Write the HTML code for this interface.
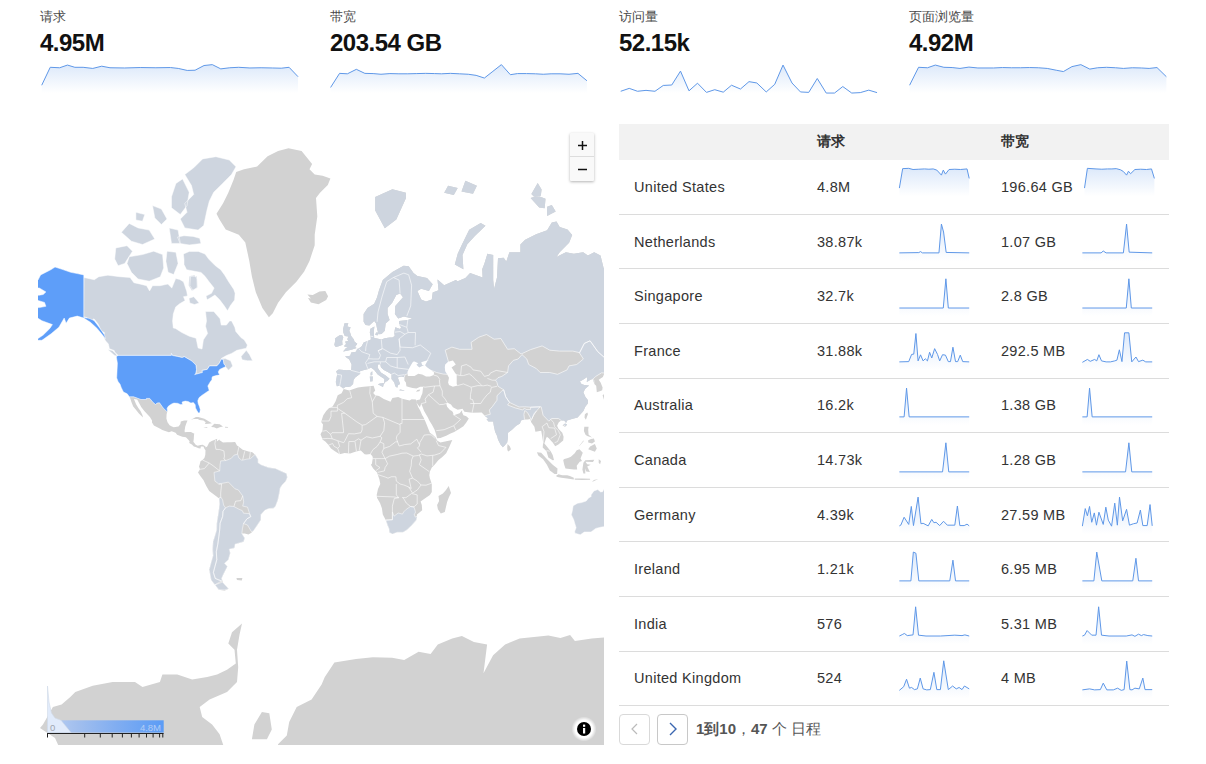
<!DOCTYPE html>
<html><head><meta charset="utf-8">
<style>
html,body{margin:0;padding:0;background:#fff;width:1206px;height:764px;overflow:hidden;position:relative;font-family:"Liberation Sans",sans-serif;color:#222}
.a{position:absolute;white-space:nowrap}
.lbl{font-size:13px;color:#4a4a4a;top:8px}
.val{font-size:24px;font-weight:bold;color:#111;top:29px;letter-spacing:-0.5px}
.th{font-size:14px;font-weight:bold;color:#333;top:133px}
.td{font-size:14.5px;color:#333;letter-spacing:0.3px}
.ln{fill:none;stroke:#5f98e8;stroke-width:1;stroke-linejoin:round}
#map{position:absolute;left:38px;top:124px;width:566px;height:621px;overflow:hidden}
#map svg{position:absolute;left:-38px;top:-124px}
.hdr{position:absolute;left:619px;top:124px;width:550px;height:36px;background:#f2f2f2}
.sep{position:absolute;left:619px;width:550px;height:1px;background:#dcdcdc}
.zb{position:absolute;left:570px;top:133px;width:24px;height:48px;background:#f9f9f9;box-shadow:0 1px 3px rgba(0,0,0,.3);border-radius:1px}
.pg{position:absolute;top:714px;width:29px;height:29px;border:1px solid #d9d9d9;border-radius:4px;background:#fff}
</style></head><body>
<div class="a lbl" style="left:40px">请求</div>
<div class="a val" style="left:40px">4.95M</div>
<div class="a lbl" style="left:330px">带宽</div>
<div class="a val" style="left:330px">203.54 GB</div>
<div class="a lbl" style="left:619px">访问量</div>
<div class="a val" style="left:619px">52.15k</div>
<div class="a lbl" style="left:909px">页面浏览量</div>
<div class="a val" style="left:909px">4.92M</div>

<div id="map"><svg width="1206" height="764" viewBox="0 0 1206 764">
<defs><clipPath id="eul"><path d="M416.4,402.4L419.9,407.2L421.2,403.5L424.1,411.1L427.9,417.4L429.3,420.5L431.8,424.6L434.6,429.7L436.2,434.7L437.1,438.2L440.4,438.0L446.2,435.7L450.0,433.7L454.2,432.1L459.6,428.7L463.4,426.3L466.3,422.6L468.8,418.5L466.3,416.2L463.4,415.3L462.1,412.2L462.1,410.2L459.6,413.2L453.8,415.3L452.9,412.2L451.9,411.1L450.0,410.0L447.1,406.8L446.2,403.5L447.1,402.4L451.0,404.6L452.9,407.2L457.7,409.8L462.5,408.7L464.4,411.7L472.1,412.8L481.7,412.4L482.6,413.6L485.5,416.4L488.4,418.5L486.5,418.9L488.4,421.6L493.2,421.6L493.8,425.7L495.1,431.7L497.0,435.7L498.0,439.6L500.5,444.5L502.8,447.2L504.7,445.5L507.2,442.5L508.0,437.6L508.0,432.7L512.0,429.7L516.2,425.7L520.0,423.6L521.0,420.5L523.9,419.5L527.7,419.5L530.2,418.9L531.2,422.2L534.4,426.7L535.4,431.7L541.2,430.7L542.1,435.7L543.1,442.5L542.7,447.4L546.5,451.3L548.3,457.4L552.7,460.3L554.0,459.9L552.7,455.1L550.7,451.3L546.9,446.4L544.4,443.5L546.0,438.6L546.9,436.7L548.8,438.2L551.7,441.6L552.7,442.5L555.2,446.2L558.4,444.5L563.2,440.6L563.6,436.7L562.3,432.7L558.4,428.7L557.1,425.7L558.8,422.2L561.3,420.5L564.2,420.5L566.1,423.0L567.1,420.5L571.9,419.1L577.6,417.4L580.5,414.3L583.4,411.1L585.3,406.8L587.8,403.5L588.0,400.2L585.3,396.8L583.4,392.2L585.3,388.7L589.1,385.6L584.3,385.1L581.5,383.9L579.9,381.4L583.4,379.4L587.2,376.9L586.8,381.9L591.0,379.4L593.0,378.9L594.3,383.9L596.2,385.8L596.8,392.2L600.6,391.0L602.2,390.3L602.6,387.5L600.6,382.6L598.7,379.7L602.9,376.9L604.5,373.1L607.2,371.0L615.0,368.6L622.7,357.5L626.5,318.0L626.5,260.2L626.5,267.9L603.6,267.9L600.5,255.4L594.2,252.2L587.9,255.4L583.2,252.2L573.8,253.8L565.9,252.2L556.5,256.9L559.7,252.2L569.1,242.8L572.2,234.9L567.5,229.5L559.7,227.1L556.5,221.6L551.8,222.4L547.1,230.2L536.1,234.2L525.1,239.7L520.4,244.4L520.4,252.2L509.4,252.2L506.3,261.6L503.7,257.7L498.0,258.3L497.0,277.5L494.1,288.7L493.2,280.1L493.2,255.1L487.4,253.8L484.5,263.3L482.2,269.2L482.6,277.5L470.1,273.1L465.4,278.0L457.7,281.2L455.8,280.1L444.2,285.2L437.5,279.6L438.5,290.2L432.7,292.5L431.8,299.4L426.0,301.6L421.2,299.4L417.4,291.1L421.2,288.7L428.9,291.1L432.7,284.2L427.0,278.0L417.4,275.9L413.5,273.1L408.7,266.2L403.6,265.7L392.4,272.0L382.8,280.1L379.0,290.2L377.1,297.2L374.2,303.8L367.5,308.0L363.6,314.1L363.6,321.8L365.6,325.1L369.4,325.5L374.2,321.0L376.1,323.6L377.1,329.0L378.6,334.2L381.5,333.9L384.8,330.8L385.7,323.6L389.6,319.9L387.6,314.1L387.6,308.0L392.4,302.5L396.3,294.9L400.1,293.5L403.0,297.2L395.3,305.9L394.9,314.1L398.2,318.4L403.9,316.5L412.2,318.4L407.8,319.9L399.1,321.0L399.1,324.4L401.1,327.3L400.1,329.0L395.3,327.3L394.3,332.5L394.7,335.9L392.4,337.6L389.6,337.6L384.8,338.2L381.3,339.5L377.1,338.5L374.2,337.9L373.8,331.8L374.4,326.5L370.4,328.7L369.8,332.5L370.6,336.2L370.9,339.5L367.5,341.1L363.6,342.4L361.7,346.2L359.8,347.7L357.1,349.0L356.0,351.7L351.2,352.6L350.2,355.8L345.0,356.4L349.3,359.5L351.6,364.5L351.2,369.9L346.4,370.2L338.7,369.4L336.2,371.2L337.2,374.3L335.8,381.9L336.8,386.3L339.7,385.8L342.0,387.5L343.3,388.7L345.4,387.0L350.2,386.8L353.1,383.9L353.5,380.2L355.0,377.7L360.2,373.8L360.0,371.2L363.3,370.2L368.4,369.1L370.9,367.5L374.2,369.9L377.7,374.6L381.3,376.9L384.4,378.9L384.0,383.9L385.7,381.4L387.1,381.2L389.6,378.7L385.7,375.6L380.9,372.5L377.7,367.8L378.0,364.5L380.3,364.3L380.9,367.2L383.8,369.9L388.6,372.5L391.5,374.3L391.5,378.9L394.3,382.6L395.3,386.3L397.2,387.7L398.2,385.1L400.1,383.9L397.8,377.4L401.1,376.6L403.9,376.9L404.3,380.4L405.9,382.6L406.4,386.3L408.7,387.0L412.6,388.0L416.4,388.4L420.3,386.8L423.1,386.8L422.8,389.8L422.4,393.3L421.2,396.1L419.9,399.5L416.4,400.2ZM343.1,351.4L347.3,350.8L352.1,349.6L356.7,348.0L355.0,347.1L357.3,343.7L354.6,341.8L353.7,339.2L351.2,335.9L350.2,332.8L349.3,330.8L350.6,327.3L347.3,326.5L348.3,323.3L344.5,323.3L343.1,329.0L343.3,332.5L344.8,335.9L348.3,336.6L347.3,339.2L348.3,341.1L345.2,341.5L346.0,344.0L343.9,346.2L347.9,347.4L346.0,348.0ZM342.5,345.0L342.2,341.1L343.3,337.6L342.2,335.2L339.7,335.2L337.7,336.6L334.9,338.5L335.2,340.8L334.3,345.0L335.8,347.1L338.7,346.2L342.0,345.0ZM377.8,384.3L383.0,387.0L384.0,383.1L380.0,383.4ZM370.2,381.4L372.5,381.2L372.9,376.4L369.8,376.4ZM370.6,375.4L372.3,375.1L372.3,371.2L370.6,372.8ZM399.1,390.3L404.5,390.8L403.9,390.3L400.1,389.6ZM375.2,334.9L378.0,335.2L378.2,332.5L376.1,332.5ZM375.2,210.4L384.8,228.2L396.3,219.6L405.9,198.2L405.9,192.7L392.4,189.3L375.2,197.1ZM454.8,264.5L463.4,269.2L462.5,255.1L467.3,244.2L474.9,236.1L485.5,225.7L480.7,223.1L469.2,229.8L461.5,245.6L457.7,253.8ZM531.4,194.0L537.7,183.1L541.6,189.4L540.8,195.7L533.8,196.5ZM530.6,198.1L537.7,195.7L545.5,198.8L544.7,208.3L539.2,207.5ZM547.1,206.7L551.8,205.1L555.7,211.4L547.1,216.1ZM444.2,192.7L453.8,194.9L457.7,188.1L448.1,185.7ZM461.5,191.6L473.0,193.8L476.9,185.7L465.4,180.8ZM562.5,425.2L565.1,426.9L567.1,424.4L565.1,423.4Z"/></clipPath></defs>
<path d="M60.0,749.0L55.0,738.0L40.0,728.0L43.0,724.4L52.9,707.0L61.6,704.5L70.3,697.0L75.3,692.0L92.7,685.8L112.6,682.0L135.0,682.0L142.5,687.0L159.9,682.0L162.4,674.6L177.3,674.6L192.2,679.6L207.2,677.1L217.1,674.6L227.0,669.7L235.8,663.4L234.5,649.8L228.3,643.5L232.0,632.3L242.0,623.6L239.5,634.8L237.0,649.8L238.2,667.2L237.0,682.1L227.0,692.0L209.6,699.5L199.7,707.0L202.2,716.9L212.1,724.4L219.6,734.3L224.6,749.0ZM251.9,739.3L254.4,724.4L261.9,711.9L269.3,713.2L271.8,729.4L266.9,739.3ZM278.0,749.0L278.0,744.3L286.8,735.6L289.2,721.9L296.7,707.0L311.6,699.5L321.6,684.6L324.8,677.0L334.4,662.5L356.0,658.9L372.9,657.2L392.1,657.7L404.2,660.1L418.6,651.7L430.6,654.1L437.8,644.5L452.2,638.5L461.9,636.1L473.9,642.1L487.1,644.5L483.5,673.3L493.1,655.3L505.1,644.5L519.6,638.5L548.4,635.6L560.4,638.0L570.1,634.9L574.9,640.9L591.7,638.5L610.0,637.0L610.0,749.0ZM129.3,396.8L130.3,398.4L131.4,402.0L133.2,406.4L135.3,409.0L138.9,413.6L143.0,417.6L142.4,414.9L140.5,411.1L138.5,408.3L136.2,404.6L133.9,399.1L137.2,399.5L141.2,407.0L144.3,411.1L149.9,417.0L152.0,420.5L152.0,422.4L153.9,425.4L160.2,428.7L162.3,430.1L168.9,432.3L171.7,431.3L175.6,432.7L177.1,434.7L182.3,436.8L185.9,437.2L188.1,439.6L189.6,441.2L189.2,443.1L191.9,444.5L193.8,446.4L195.7,447.0L198.6,448.2L200.5,448.4L200.9,446.6L203.4,446.6L204.6,448.9L205.7,447.6L205.3,446.2L202.6,444.7L200.5,444.9L197.7,445.8L195.7,444.7L193.4,441.8L193.8,438.6L194.0,434.7L194.4,433.7L190.9,431.9L187.1,432.1L184.8,432.3L184.6,430.7L185.2,426.7L186.1,424.0L187.5,420.5L184.2,420.5L180.8,421.6L180.4,424.0L178.5,426.5L173.7,427.3L171.4,426.3L169.6,425.2L167.5,422.2L166.4,418.5L166.6,414.3L167.5,411.1L166.9,411.5L163.1,407.9L159.5,402.8L157.0,403.1L155.6,404.6L153.1,402.4L149.7,398.4L146.4,398.4L146.4,399.5L141.0,399.5L133.7,396.8ZM236.2,171.9L244.0,169.3L257.1,166.6L267.6,156.2L278.1,150.9L288.5,148.3L301.6,150.9L312.1,164.0L309.5,169.3L314.7,174.5L322.6,175.8L330.4,178.4L327.8,185.0L320.0,192.8L316.0,198.1L317.3,216.4L314.7,234.7L314.7,245.2L309.5,260.9L304.2,271.4L296.4,281.8L285.9,292.3L278.1,302.8L272.8,313.3L268.9,317.2L262.4,308.0L255.8,292.3L251.9,276.6L249.3,260.9L245.3,242.6L238.8,234.7L225.7,229.5L219.2,219.0L216.5,213.8L223.1,203.3L228.3,192.8L233.6,179.7ZM191.0,419.8L195.9,417.1L198.2,417.0L204.4,418.7L209.0,421.4L211.9,423.2L208.6,423.7L204.9,424.0L205.7,422.2L203.4,420.5L199.6,419.9L197.7,419.1L193.8,419.1ZM211.1,426.9L214.3,423.8L219.7,424.2L223.0,426.5L219.7,427.3L216.8,428.5L214.0,427.3L211.3,427.1ZM203.6,426.9L207.8,427.3L206.7,427.9L204.0,427.3ZM225.1,426.7L228.2,426.9L227.8,427.7L225.1,427.7ZM205.7,447.6L207.2,446.4L209.2,442.5L211.7,441.0L215.5,439.6L217.2,438.8L216.8,441.6L219.7,439.2L219.3,440.0L223.0,442.5L227.4,442.3L231.2,442.3L235.1,442.1L237.0,445.5L238.9,446.8L242.7,449.7L248.5,451.5L252.3,452.2L255.2,454.7L258.1,459.3L258.1,462.8L261.0,464.7L268.7,467.6L275.4,468.4L282.1,471.6L286.5,473.4L287.3,477.2L285.9,481.1L282.1,485.0L280.2,488.0L279.2,493.9L277.9,499.9L275.6,506.1L273.5,508.2L268.7,508.6L264.8,510.3L261.0,514.5L260.8,519.9L257.1,525.4L253.3,531.1L251.4,532.7L248.5,534.6L244.7,533.4L241.8,533.4L244.7,538.1L243.7,541.7L235.1,544.2L234.5,547.9L229.3,549.2L230.3,553.1L228.4,559.7L224.5,563.3L227.4,566.6L223.6,573.9L221.6,578.5L222.6,581.0L223.0,583.2L228.7,588.7L224.5,590.7L218.8,589.7L214.9,584.8L211.1,580.0L209.2,569.5L211.1,562.4L213.0,555.7L212.6,549.2L213.0,541.7L214.9,535.8L216.6,529.9L216.8,523.2L217.8,516.6L218.8,510.3L219.5,504.0L219.1,498.5L215.9,495.9L209.2,490.9L206.3,486.0L203.4,480.1L200.5,476.3L198.0,472.4L200.0,469.3L199.0,466.6L199.6,464.7L200.5,461.3L202.4,459.9L204.4,458.0L205.3,455.1L205.5,450.3L204.6,448.9ZM236.4,577.9L242.4,577.9L241.8,580.6L237.0,580.0ZM416.0,399.5L411.6,399.3L409.7,400.4L402.0,398.8L398.2,397.0L392.4,397.9L390.5,401.7L383.8,399.1L379.0,395.9L375.2,395.2L373.2,392.9L375.2,390.6L373.6,385.8L369.4,386.3L363.6,386.8L357.9,387.5L352.1,389.4L349.3,390.6L343.7,388.9L341.6,393.3L337.7,395.2L335.6,401.3L332.6,406.4L329.1,407.9L326.2,411.1L323.3,415.3L321.6,420.5L321.2,422.0L323.0,424.6L322.4,430.7L320.5,434.3L321.8,437.6L322.4,439.6L325.3,441.6L328.1,444.5L331.0,448.4L334.9,451.3L339.7,454.3L344.5,453.0L350.2,453.6L356.0,451.5L360.8,450.5L364.6,454.2L366.5,454.5L370.4,454.0L372.3,456.1L372.9,458.0L372.3,460.9L371.9,463.8L370.9,464.7L373.2,468.6L377.1,472.4L377.7,474.5L379.4,479.2L380.3,484.0L378.0,488.9L376.7,494.9L377.1,497.9L380.0,503.0L381.9,508.2L382.8,514.5L385.7,520.1L387.6,525.4L389.0,528.8L389.4,532.5L392.4,534.1L397.2,532.3L403.0,532.3L406.8,529.9L411.6,525.4L416.4,519.9L417.0,514.5L422.2,510.3L421.8,505.1L420.6,501.6L424.1,498.9L429.9,494.9L431.8,491.9L431.8,484.0L429.9,478.2L429.3,475.3L429.9,471.4L431.8,467.6L434.6,464.7L438.5,459.9L442.3,457.0L446.2,453.2L449.0,447.4L452.3,440.0L446.2,441.2L440.4,442.5L437.1,440.6L435.6,437.6L432.7,434.7L429.9,432.7L427.9,427.7L425.4,421.6L423.1,416.4L422.2,415.3L420.3,410.7L418.3,407.2L416.4,402.6ZM448.7,486.0L451.0,492.9L449.0,496.9L447.1,502.0L444.8,512.0L440.8,513.4L437.9,509.2L437.1,505.1L439.1,501.0L438.5,495.9L442.9,493.5L446.0,489.9ZM416.4,402.4L419.9,407.2L421.2,403.5L424.1,411.1L427.9,417.4L429.3,420.5L431.8,424.6L434.6,429.7L436.2,434.7L437.1,438.2L440.4,438.0L446.2,435.7L450.0,433.7L454.2,432.1L459.6,428.7L463.4,426.3L466.3,422.6L468.8,418.5L466.3,416.2L463.4,415.3L462.1,412.2L462.1,410.2L459.6,413.2L453.8,415.3L452.9,412.2L451.9,411.1L450.0,410.0L447.1,406.8L446.2,403.5L447.1,402.4L451.0,404.6L452.9,407.2L457.7,409.8L462.5,408.7L464.4,411.7L472.1,412.8L481.7,412.4L482.6,413.6L485.5,416.4L488.4,418.5L486.5,418.9L488.4,421.6L493.2,421.6L493.8,425.7L495.1,431.7L497.0,435.7L498.0,439.6L500.5,444.5L502.8,447.2L504.7,445.5L507.2,442.5L508.0,437.6L508.0,432.7L512.0,429.7L516.2,425.7L520.0,423.6L521.0,420.5L523.9,419.5L527.7,419.5L530.2,418.9L531.2,422.2L534.4,426.7L535.4,431.7L541.2,430.7L542.1,435.7L543.1,442.5L542.7,447.4L546.5,451.3L548.3,457.4L552.7,460.3L554.0,459.9L552.7,455.1L550.7,451.3L546.9,446.4L544.4,443.5L546.0,438.6L546.9,436.7L548.8,438.2L551.7,441.6L552.7,442.5L555.2,446.2L558.4,444.5L563.2,440.6L563.6,436.7L562.3,432.7L558.4,428.7L557.1,425.7L558.8,422.2L561.3,420.5L564.2,420.5L566.1,423.0L567.1,420.5L571.9,419.1L577.6,417.4L580.5,414.3L583.4,411.1L585.3,406.8L587.8,403.5L588.0,400.2L585.3,396.8L583.4,392.2L585.3,388.7L589.1,385.6L584.3,385.1L581.5,383.9L579.9,381.4L583.4,379.4L587.2,376.9L586.8,381.9L591.0,379.4L593.0,378.9L594.3,383.9L596.2,385.8L596.8,392.2L600.6,391.0L602.2,390.3L602.6,387.5L600.6,382.6L598.7,379.7L602.9,376.9L604.5,373.1L607.2,371.0L615.0,368.6L622.7,357.5L626.5,318.0L626.5,260.2L626.5,267.9L603.6,267.9L600.5,255.4L594.2,252.2L587.9,255.4L583.2,252.2L573.8,253.8L565.9,252.2L556.5,256.9L559.7,252.2L569.1,242.8L572.2,234.9L567.5,229.5L559.7,227.1L556.5,221.6L551.8,222.4L547.1,230.2L536.1,234.2L525.1,239.7L520.4,244.4L520.4,252.2L509.4,252.2L506.3,261.6L503.7,257.7L498.0,258.3L497.0,277.5L494.1,288.7L493.2,280.1L493.2,255.1L487.4,253.8L484.5,263.3L482.2,269.2L482.6,277.5L470.1,273.1L465.4,278.0L457.7,281.2L455.8,280.1L444.2,285.2L437.5,279.6L438.5,290.2L432.7,292.5L431.8,299.4L426.0,301.6L421.2,299.4L417.4,291.1L421.2,288.7L428.9,291.1L432.7,284.2L427.0,278.0L417.4,275.9L413.5,273.1L408.7,266.2L403.6,265.7L392.4,272.0L382.8,280.1L379.0,290.2L377.1,297.2L374.2,303.8L367.5,308.0L363.6,314.1L363.6,321.8L365.6,325.1L369.4,325.5L374.2,321.0L376.1,323.6L377.1,329.0L378.6,334.2L381.5,333.9L384.8,330.8L385.7,323.6L389.6,319.9L387.6,314.1L387.6,308.0L392.4,302.5L396.3,294.9L400.1,293.5L403.0,297.2L395.3,305.9L394.9,314.1L398.2,318.4L403.9,316.5L412.2,318.4L407.8,319.9L399.1,321.0L399.1,324.4L401.1,327.3L400.1,329.0L395.3,327.3L394.3,332.5L394.7,335.9L392.4,337.6L389.6,337.6L384.8,338.2L381.3,339.5L377.1,338.5L374.2,337.9L373.8,331.8L374.4,326.5L370.4,328.7L369.8,332.5L370.6,336.2L370.9,339.5L367.5,341.1L363.6,342.4L361.7,346.2L359.8,347.7L357.1,349.0L356.0,351.7L351.2,352.6L350.2,355.8L345.0,356.4L349.3,359.5L351.6,364.5L351.2,369.9L346.4,370.2L338.7,369.4L336.2,371.2L337.2,374.3L335.8,381.9L336.8,386.3L339.7,385.8L342.0,387.5L343.3,388.7L345.4,387.0L350.2,386.8L353.1,383.9L353.5,380.2L355.0,377.7L360.2,373.8L360.0,371.2L363.3,370.2L368.4,369.1L370.9,367.5L374.2,369.9L377.7,374.6L381.3,376.9L384.4,378.9L384.0,383.9L385.7,381.4L387.1,381.2L389.6,378.7L385.7,375.6L380.9,372.5L377.7,367.8L378.0,364.5L380.3,364.3L380.9,367.2L383.8,369.9L388.6,372.5L391.5,374.3L391.5,378.9L394.3,382.6L395.3,386.3L397.2,387.7L398.2,385.1L400.1,383.9L397.8,377.4L401.1,376.6L403.9,376.9L404.3,380.4L405.9,382.6L406.4,386.3L408.7,387.0L412.6,388.0L416.4,388.4L420.3,386.8L423.1,386.8L422.8,389.8L422.4,393.3L421.2,396.1L419.9,399.5L416.4,400.2ZM343.1,351.4L347.3,350.8L352.1,349.6L356.7,348.0L355.0,347.1L357.3,343.7L354.6,341.8L353.7,339.2L351.2,335.9L350.2,332.8L349.3,330.8L350.6,327.3L347.3,326.5L348.3,323.3L344.5,323.3L343.1,329.0L343.3,332.5L344.8,335.9L348.3,336.6L347.3,339.2L348.3,341.1L345.2,341.5L346.0,344.0L343.9,346.2L347.9,347.4L346.0,348.0ZM342.5,345.0L342.2,341.1L343.3,337.6L342.2,335.2L339.7,335.2L337.7,336.6L334.9,338.5L335.2,340.8L334.3,345.0L335.8,347.1L338.7,346.2L342.0,345.0ZM377.8,384.3L383.0,387.0L384.0,383.1L380.0,383.4ZM370.2,381.4L372.5,381.2L372.9,376.4L369.8,376.4ZM370.6,375.4L372.3,375.1L372.3,371.2L370.6,372.8ZM399.1,390.3L404.5,390.8L403.9,390.3L400.1,389.6ZM416.0,391.7L419.3,391.3L420.3,389.6L417.4,390.1ZM375.2,334.9L378.0,335.2L378.2,332.5L376.1,332.5ZM375.2,210.4L384.8,228.2L396.3,219.6L405.9,198.2L405.9,192.7L392.4,189.3L375.2,197.1ZM310.9,302.5L318.5,304.2L326.2,299.9L328.1,296.3L325.3,291.1L319.5,291.6L312.8,294.9L307.4,294.4L310.9,298.5L308.0,298.1ZM507.4,450.3L508.5,451.5L511.0,449.3L509.9,446.4L507.6,443.9L507.2,447.4ZM584.5,417.4L585.9,419.7L588.0,414.1L587.2,412.6L584.9,414.3ZM562.5,425.2L565.1,426.9L567.1,424.4L565.1,423.4ZM602.6,395.2L603.9,399.5L606.4,399.1L607.4,393.8L605.1,393.3ZM605.2,392.7L609.3,392.7L613.1,394.5L622.7,391.0L624.6,376.4L622.3,378.9L617.0,386.3L609.3,389.6ZM584.3,426.7L588.6,426.7L588.2,429.7L588.6,434.7L592.0,437.6L587.2,436.1L585.5,434.7L583.9,431.1ZM588.2,449.3L594.9,451.8L596.8,448.4L594.9,443.9L590.1,446.4ZM579.0,446.6L583.8,441.0L583.4,440.6L579.5,445.5ZM588.2,442.5L592.0,443.5L594.9,441.6L593.9,438.6L591.0,439.0L588.2,440.2ZM563.2,459.9L564.2,464.7L565.5,468.6L573.8,469.5L577.2,469.5L576.7,465.7L579.7,461.8L582.0,460.9L580.5,458.4L582.8,452.8L579.5,449.3L576.7,450.3L574.7,453.2L570.9,456.7L568.0,458.0L564.4,459.0ZM536.9,452.2L541.2,452.8L546.9,459.0L552.7,464.7L557.5,468.6L557.1,473.9L554.6,474.1L549.8,470.5L546.9,464.7L543.1,459.3L538.3,455.5ZM555.9,475.9L558.4,474.3L562.3,475.3L567.1,475.3L569.9,476.1L573.8,477.8L573.8,479.6L567.1,478.6L561.3,477.8L557.5,477.0ZM583.4,473.4L585.3,473.4L585.3,468.2L586.2,471.6L589.9,472.0L587.2,466.4L590.7,464.7L587.2,464.3L585.5,461.8L593.0,462.0L594.3,459.7L585.3,460.3L583.4,462.8L582.4,469.5ZM574.7,478.6L582.4,478.6L590.1,478.8L590.1,479.8L582.4,480.1L574.7,479.8ZM592.0,482.1L598.3,479.0L593.9,480.1ZM598.7,459.3L601.0,460.9L600.1,464.3L598.7,462.8ZM605.4,464.7L611.2,464.3L618.9,465.7L632.3,470.5L632.3,478.2L618.9,478.8L617.9,472.4L609.3,470.5L607.4,467.6ZM454.8,264.5L463.4,269.2L462.5,255.1L467.3,244.2L474.9,236.1L485.5,225.7L480.7,223.1L469.2,229.8L461.5,245.6L457.7,253.8ZM531.4,194.0L537.7,183.1L541.6,189.4L540.8,195.7L533.8,196.5ZM530.6,198.1L537.7,195.7L545.5,198.8L544.7,208.3L539.2,207.5ZM547.1,206.7L551.8,205.1L555.7,211.4L547.1,216.1ZM444.2,192.7L453.8,194.9L457.7,188.1L448.1,185.7ZM461.5,191.6L473.0,193.8L476.9,185.7L465.4,180.8Z" fill="#d2d2d2"/>
<g clip-path="url(#eul)"><path d="M296.5,388.2L343.5,388.4L350.2,387.2L359.8,382.6L372.3,383.1L377.1,384.8L377.1,388.0L383.8,388.2L392.4,392.2L407.8,392.2L408.7,388.2L403.9,385.1L403.9,380.2L404.3,377.4L405.1,374.6L407.8,373.8L417.4,369.9L427.0,369.9L430.8,370.2L436.6,372.5L443.3,374.1L447.1,374.3L450.0,371.2L448.7,362.6L445.2,350.2L451.9,347.1L459.6,349.3L472.1,349.3L471.1,342.4L478.8,337.2L486.5,334.5L494.1,339.2L500.9,338.5L507.6,349.3L514.3,348.7L521.0,354.0L522.9,353.2L530.6,349.6L542.1,345.9L549.8,350.2L559.4,351.1L572.8,351.1L578.0,352.3L579.5,352.9L584.3,343.4L590.1,340.8L597.8,351.7L605.4,358.4L612.2,356.7L609.3,365.9L606.4,371.2L604.9,373.1L641.9,378.9L641.9,118.5L296.5,118.5ZM579.5,352.9L583.4,359.0L576.7,364.5L569.0,365.9L567.1,369.9L557.5,374.3L549.8,372.5L540.2,372.5L536.4,368.6L528.7,364.5L526.8,359.0L522.0,354.6L518.1,359.0L513.3,360.4L508.5,365.9L507.6,372.5L501.8,376.4L498.0,377.7L495.5,380.2L497.0,382.6L498.0,386.3L503.7,389.8L505.7,396.8L509.5,402.4L519.1,407.0L524.8,406.8L530.6,407.2L541.2,406.8L543.1,415.3L548.8,421.2L551.7,418.5L558.4,418.5L561.3,420.5L562.3,423.6L569.0,429.7L580.5,421.6L584.3,416.4L586.2,406.8L593.9,397.9L593.9,380.2L592.8,379.2L595.8,376.4L601.6,372.8L604.9,373.1L606.4,371.2L609.3,365.9L612.2,356.7L605.4,358.4L597.8,351.7L590.1,340.8L584.3,343.4ZM480.7,417.4L484.9,416.0L487.4,414.9L490.3,414.3L489.3,410.0L492.2,406.8L497.0,400.2L497.0,395.7L501.8,391.0L503.7,389.8L505.7,396.8L509.5,402.4L507.6,405.0L515.2,407.9L522.9,410.0L524.5,407.9L525.8,409.4L530.6,409.4L530.6,407.2L540.2,406.8L536.4,411.1L533.5,415.3L531.6,419.5L531.2,420.5L530.2,417.4L527.7,412.8L524.8,410.5L523.9,414.3L524.5,419.5L522.9,429.7L508.5,442.9L506.2,445.1L503.7,448.4L488.4,443.5Z" fill="#ced5df" stroke="#fff" stroke-width="0.6"/></g>
<path d="M83.9,277.5L94.3,279.7L98.8,276.7L107.8,275.2L119.7,276.7L130.1,277.5L133.9,282.7L140.6,284.2L146.6,285.7L149.6,290.9L152.5,285.7L160.0,285.7L167.8,284.1L171.8,288.1L175.7,278.6L179.6,279.4L183.5,281.8L186.7,291.2L187.5,295.9L183.5,296.7L185.1,300.6L179.6,303.8L175.7,306.9L173.3,314.0L172.6,321.0L173.3,328.0L175.5,328.4L181.4,332.3L189.3,336.2L196.1,338.2L198.1,348.0L202.0,349.0L203.4,339.8L207.6,333.5L205.5,326.2L206.5,320.9L205.5,311.5L213.8,311.5L220.1,318.8L221.2,325.1L226.4,325.1L229.6,320.9L231.6,320.9L234.8,327.2L235.8,331.4L241.1,337.7L244.2,339.8L247.4,345.0L246.3,348.2L236.9,350.3L231.6,353.4L226.4,355.5L221.2,358.6L225.4,358.6L230.6,360.7L232.7,366.0L228.5,370.2L225.5,366.7L225.1,365.3L223.9,364.0L223.2,359.5L221.3,359.2L219.1,363.4L216.8,365.9L209.5,365.9L207.2,369.4L202.1,370.4L202.4,372.5L194.6,374.6L195.7,373.8L196.5,369.6L195.9,365.1L192.7,361.8L191.1,360.6L184.4,356.7L182.1,357.5L177.5,356.4L172.5,355.5L171.4,353.5L171.4,355.4L118.0,355.4L116.9,354.3L114.6,352.0L114.2,350.5L109.4,348.7L108.4,344.0L105.5,340.8L103.4,336.6L104.6,332.8L101.1,330.4L98.1,324.0L94.0,318.8L90.2,321.8L86.9,317.6L83.5,316.8ZM117.4,356.4L114.2,355.2L107.8,349.6L112.3,350.5L116.1,353.8ZM241.1,356.5L246.3,350.3L249.5,354.5L252.6,360.7L247.4,360.7L242.1,359.7ZM184.0,259.3L183.4,254.0L189.3,251.4L198.4,251.4L205.0,254.0L208.9,259.3L215.4,265.8L220.7,269.7L224.6,275.0L228.5,281.5L233.8,289.4L235.1,293.3L234.6,300.0L230.6,305.3L227.5,310.8L224.4,306.1L219.7,299.8L214.9,295.1L211.0,297.5L207.1,299.8L206.0,296.0L211.5,293.3L214.1,288.1L208.9,281.5L205.0,276.3L201.0,272.4L193.2,271.0L186.6,269.7L184.0,264.5ZM177.5,237.0L184.0,235.7L193.2,236.4L199.7,238.3L201.0,243.6L189.3,244.9L180.1,243.6ZM189.3,276.3L194.5,275.0L197.1,278.9L197.1,288.1L191.9,290.7L188.6,285.4ZM190.6,276.3L196.9,276.3L197.7,287.3L193.0,290.4L189.8,285.7ZM189.0,298.3L193.8,296.7L199.2,303.0L194.5,304.5L189.8,303.0ZM202.6,158.9L215.9,156.7L229.3,160.0L236.0,166.7L231.5,174.5L222.6,183.4L213.7,192.3L209.3,201.2L207.0,210.1L203.7,225.6L198.1,230.1L184.8,227.9L180.3,219.0L187.0,212.3L184.8,203.4L193.7,194.5L191.5,185.6L184.8,174.5L193.7,167.8ZM171.5,196.7L175.9,183.4L182.6,178.9L189.2,192.3L187.0,205.6L180.3,214.5L171.5,207.8ZM152.5,205.6L161.4,209.0L167.0,219.0L161.4,224.5L154.8,217.9ZM169.2,227.9L178.1,230.1L180.3,243.4L171.5,243.4ZM135.9,212.3L144.8,214.5L142.5,221.2L135.9,220.0ZM121.4,232.3L129.2,223.4L138.1,227.9L149.2,230.1L154.8,239.0L142.5,244.5L131.4,241.2ZM115.8,247.9L127.0,245.7L132.5,251.2L124.7,263.5L118.1,265.7L114.7,259.0ZM129.2,256.8L142.5,254.6L153.7,251.2L162.6,254.6L163.7,267.9L160.3,276.8L149.2,281.2L138.1,279.0L131.4,272.3L127.0,263.5ZM167.0,251.2L175.9,252.3L178.1,263.5L173.7,274.6L168.1,272.3L165.9,261.2ZM255.0,454.5L250.4,458.6L246.6,459.2L241.8,460.3L238.9,458.0L237.6,454.2L234.1,455.1L231.2,458.4L225.9,460.5L220.7,460.9L220.1,464.7L219.7,470.9L214.0,472.4L214.9,481.1L218.8,484.0L228.4,482.1L235.1,488.9L238.3,489.9L242.7,495.9L243.7,502.0L242.7,506.1L247.5,507.1L249.5,513.4L250.8,516.6L247.0,518.8L243.5,523.6L247.5,525.0L251.4,531.6L253.3,531.1L257.1,525.4L260.8,519.9L261.0,514.5L264.8,510.3L268.7,508.6L273.5,508.2L275.6,506.1L277.9,499.9L279.2,493.9L280.2,488.0L282.1,485.0L285.9,481.1L287.3,477.2L286.5,473.4L282.1,471.6L275.4,468.4L268.7,467.6L261.0,464.7L258.1,462.8L258.1,459.3L255.2,454.7ZM242.0,532.3L242.4,528.8L243.5,523.6L247.0,518.8L250.8,516.6L249.3,513.6L243.5,513.2L242.4,510.7L238.9,509.2L233.9,506.5L229.3,506.1L225.5,507.8L223.0,511.3L222.6,516.6L220.1,523.2L219.7,529.9L218.8,536.9L217.8,544.2L216.3,551.8L216.8,559.7L214.9,566.6L213.4,572.4L215.3,578.5L221.6,581.0L222.6,581.0L221.6,578.5L223.6,573.9L227.4,566.6L224.5,563.3L228.4,559.7L230.3,553.1L229.3,549.2L234.5,547.9L235.1,544.2L243.7,541.7L244.7,538.1L241.8,533.4ZM219.1,498.5L220.7,496.9L222.6,499.9L223.6,505.1L225.5,507.8L223.0,511.3L222.6,516.6L220.1,523.2L219.7,529.9L218.8,536.9L217.8,544.2L216.3,551.8L216.8,559.7L214.9,566.6L213.4,572.4L215.3,578.5L221.6,581.0L214.9,584.8L211.1,580.0L209.2,569.5L211.1,562.4L213.0,555.7L212.6,549.2L213.0,541.7L214.9,535.8L216.6,529.9L216.8,523.2L217.8,516.6L218.8,510.3L219.5,504.0ZM222.4,581.9L228.7,588.7L224.5,590.0L218.8,589.7L214.9,584.8L219.7,583.2L222.4,581.9ZM385.7,520.1L387.6,525.4L389.0,528.8L389.4,532.5L392.4,534.1L397.2,532.3L403.0,532.3L406.8,529.9L411.6,525.4L416.4,519.9L417.2,516.2L415.3,517.1L414.1,514.1L415.3,513.2L415.3,511.1L413.9,506.9L410.5,506.5L406.2,509.4L403.9,511.7L402.4,514.1L398.2,513.0L394.0,516.2L392.4,512.0L392.4,519.7L388.2,519.9ZM605.1,486.8L602.6,491.7L600.6,491.9L597.8,489.5L593.9,490.9L591.0,494.9L591.2,496.5L588.6,497.9L586.2,501.0L581.5,502.6L577.6,503.2L573.2,505.7L572.0,512.2L571.3,514.7L573.8,519.9L574.7,523.2L576.1,527.7L574.7,531.3L574.9,533.2L580.3,534.8L584.3,532.0L591.0,532.0L595.8,528.4L601.6,527.0L605.4,526.5L622.7,526.5L622.7,486.0Z" fill="#ced5df" stroke="#fff" stroke-width="0.5" stroke-linejoin="round"/>
<path d="M116.3,356.7L118.0,355.4L171.4,355.4L171.4,353.5L172.5,355.5L177.5,356.4L182.1,357.5L184.4,356.7L191.1,360.6L192.7,361.8L195.9,365.1L196.5,369.6L195.7,373.8L194.6,374.6L202.4,372.5L202.1,370.4L207.2,369.4L209.5,365.9L216.8,365.9L219.1,363.4L221.3,359.2L223.2,359.5L223.9,364.0L225.1,365.3L225.5,366.7L222.6,368.0L219.7,369.4L218.4,371.5L218.6,373.3L219.7,374.3L218.8,375.1L216.1,375.6L212.6,376.6L212.0,377.7L211.9,379.7L210.3,381.7L209.9,382.4L208.4,385.1L207.8,386.0L208.4,387.7L209.2,390.6L207.2,391.7L204.6,393.6L202.1,395.2L199.0,397.7L197.8,400.8L198.2,403.5L199.4,406.4L200.3,409.4L199.8,412.8L198.4,413.0L197.1,410.9L195.5,407.9L195.2,404.8L193.4,402.6L190.9,403.1L188.1,401.5L185.2,401.1L182.1,402.0L182.5,404.6L180.4,404.4L177.5,403.3L173.9,403.1L171.7,403.9L168.5,406.1L167.1,408.3L167.5,411.1L166.9,411.5L163.1,407.9L159.5,402.8L157.0,403.1L155.6,404.6L153.1,402.4L149.7,398.4L146.4,398.4L146.4,399.5L141.0,399.5L133.7,396.8L129.3,396.8L127.2,393.8L123.4,392.0L121.1,387.2L120.1,384.3L118.0,381.4L116.7,377.9L116.9,373.8L117.1,369.4L117.4,363.2L116.3,356.7ZM83.8,274.9L77.3,273.6L70.7,272.3L62.9,269.6L55.0,267.0L51.1,269.6L45.9,272.3L40.6,274.9L38.0,280.1L35.4,280.1L35.4,288.0L39.3,288.0L45.9,291.9L43.2,294.5L39.3,295.2L35.4,295.2L35.4,299.7L44.5,302.4L45.9,306.3L39.3,307.6L35.4,307.6L35.4,316.8L41.9,320.7L52.4,324.6L49.8,328.5L43.2,335.1L35.4,340.3L41.9,340.3L51.1,333.8L58.9,327.2L64.2,318.1L66.1,323.3L69.4,318.1L77.3,316.1L83.8,318.1L90.4,322.3L96.9,328.2L103.4,336.1L105.4,338.7L104.5,335.0L99.0,327.0L94.0,320.5L89.0,318.3L83.8,317.5Z" fill="#5e9ef9" stroke="#fff" stroke-width="0.5"/>
<path d="M349.8,390.8L350.8,394.5L351.7,397.7L347.1,398.8L343.5,402.4L337.4,405.3L337.4,408.3L344.8,413.2L356.4,421.6L362.1,425.2M337.4,407.4L328.7,407.4M337.4,408.3L337.4,411.1L331.0,411.1L331.0,416.4L329.1,421.0L321.4,421.0M344.8,413.2L341.6,413.4L343.5,430.7L343.5,432.7L332.0,432.7L330.6,434.3L326.2,430.5L322.4,431.3M330.6,434.3L332.2,438.8L327.8,438.4L321.8,438.8M332.2,438.8L337.9,440.8L343.7,442.7L345.0,440.6L348.5,433.7L354.4,433.9L361.0,432.7L362.1,429.9L362.1,425.2M328.5,445.1L332.6,443.5L334.1,446.4L337.7,448.2L339.7,454.3M337.9,440.8L339.7,446.4L337.7,448.2M348.5,453.2L348.7,444.5L348.9,441.6L354.4,441.4L358.5,438.8L361.0,440.2M356.4,451.1L355.0,441.6M359.2,450.5L361.0,440.2M361.0,440.2L366.5,436.7L372.3,438.0L380.1,436.3M370.4,454.0L372.9,449.7L377.1,446.4L380.1,442.0L381.9,437.8L380.1,436.3M380.1,436.3L383.8,430.7L384.6,422.8L382.8,417.4L377.1,416.4L365.6,424.6L362.1,425.2M377.1,416.4L373.2,413.2L372.3,401.7L376.1,395.2M370.2,386.5L369.8,393.3L372.3,401.7M402.0,398.8L402.0,419.5L424.9,419.5M382.8,417.4L400.1,424.6L400.1,423.6L402.0,423.6L402.0,419.5M400.1,424.6L400.1,432.3L397.0,435.7L396.3,438.2L399.1,446.0L404.9,444.5L410.7,443.9L416.8,439.2L419.3,444.5M380.1,442.0L383.8,443.7L383.8,448.4L389.6,446.4L395.7,441.8L398.0,441.8M383.8,448.4L381.9,452.2L385.1,458.6L389.6,456.1L397.2,454.5L402.0,453.2L406.8,453.0L413.2,456.1L418.3,455.5L421.2,454.0M424.1,435.1L422.2,438.6L419.9,442.3L419.3,446.4L417.4,447.8L421.2,452.2M424.1,435.1L427.9,434.7L431.2,434.9L435.4,438.6M436.2,440.6L438.5,445.5L446.0,447.4L440.4,453.2L434.6,455.1L432.7,455.3L427.0,455.9L421.2,454.0M432.7,455.3L432.7,465.9M419.3,454.7L421.2,459.9L419.3,464.7L429.3,471.6M372.9,458.6L375.7,458.6L381.9,458.6L385.1,458.6L387.6,463.8L385.1,467.6L384.4,470.9L377.7,472.4M375.7,458.6L375.7,464.7L380.0,467.6L376.1,470.5M377.7,474.5L385.7,477.2L388.0,478.2L391.5,476.7L395.9,476.8L396.3,481.1L400.1,484.0L403.9,485.0L408.7,487.0L411.2,488.6L409.1,479.2L412.6,478.2L409.7,471.4L411.2,465.7L411.6,459.9L413.2,456.1M396.3,484.0L396.3,494.9L398.8,497.7L393.4,496.9L376.7,496.3M431.8,483.1L426.0,485.2L421.0,485.0L417.4,489.9L412.6,493.1L408.7,487.0M412.6,478.2L417.4,481.1L421.0,485.0M402.4,497.5L405.9,497.7L411.6,493.5L417.2,494.9L417.2,504.0L413.9,506.9L410.5,506.5L406.2,503.0L403.9,498.9L402.4,497.5M392.4,506.1L392.4,512.0M392.4,506.1L394.3,498.5L398.8,497.7M392.4,512.0L392.4,519.7L385.7,520.1M215.5,440.0L214.9,443.5L215.9,449.3L219.7,449.5L223.9,450.9L224.5,456.1L223.9,459.0L225.9,460.5M202.4,459.9L205.3,461.3L209.2,463.0L213.0,465.7L219.7,470.9M209.2,463.0L204.4,468.6L200.0,469.3M238.9,446.8L237.6,452.8L237.6,454.2M244.7,451.3L242.7,459.9M250.4,451.8L249.5,458.4M218.8,484.0L221.6,484.0L220.7,492.9L220.7,496.9L219.1,498.5M233.9,506.5L235.6,501.2L240.8,500.6L242.7,495.9M423.1,386.8L425.1,387.2L434.6,386.0L440.0,385.8L439.4,380.2L440.0,379.7L437.5,376.1L433.7,375.1M434.6,386.0L433.1,392.2L428.5,394.7L425.1,399.1L426.0,402.4L421.2,403.7M428.5,394.7L439.4,404.6L443.3,404.4L446.2,403.5M440.0,385.8L442.3,391.0L442.3,395.7L445.2,399.1L447.1,402.4M436.2,430.7L444.2,429.7L453.8,425.7L460.6,419.5L452.9,414.3M453.8,425.7L455.8,430.3M471.1,387.2L471.5,389.6L470.5,394.5L470.3,399.1L472.5,399.5L474.0,403.7L472.1,412.8M470.3,403.5L480.7,403.5L483.6,399.1L487.4,394.5L490.3,392.2L491.3,387.5L497.0,386.3M457.5,385.6L463.4,383.9L469.2,386.3L471.1,387.2L477.8,385.6L483.6,385.8L487.4,385.1L491.3,386.3M454.8,374.3L460.6,375.6L461.5,365.9L466.3,364.5L471.1,367.2L473.0,369.9L480.7,371.2L484.5,376.4L489.3,375.1L490.3,373.1L496.1,370.4L507.6,372.5M460.6,375.6L463.4,375.6L469.2,373.8L472.1,375.9L477.8,381.7L481.7,385.3M487.4,378.4L492.2,380.2L495.5,380.2M543.1,443.5L544.0,431.7L542.1,426.7L546.9,423.0L548.8,427.7L554.6,428.1L556.5,434.7L550.7,438.6M550.2,418.7L553.6,422.6L554.6,426.7L558.4,430.7L560.3,434.7L557.5,441.6L554.6,442.7M546.5,450.5L549.8,451.3M531.6,419.5L534.4,413.2L536.4,411.1M350.6,370.2L360.2,372.8M337.2,374.3L341.6,375.1L340.6,381.4L339.7,385.8M358.8,348.7L361.7,351.7L365.6,353.2L369.8,354.6L368.4,358.7L365.6,362.6L367.5,368.0L368.4,369.1M381.3,339.5L382.1,348.7L378.0,350.8L380.5,355.2L379.0,359.0L373.2,359.0L368.4,358.7M367.5,341.1L365.9,347.1L365.6,351.1M370.6,336.2L373.2,336.6M367.5,363.4L374.2,361.8L380.3,361.8L380.3,364.3M399.1,338.9L400.1,350.2L397.2,354.6L390.5,353.2L382.8,348.7L378.0,350.8M380.3,361.8L385.7,361.8L386.7,357.5L397.2,357.5L404.9,357.0L408.2,364.5M391.5,374.3L394.3,373.1L398.2,375.6L404.5,374.6M397.2,368.0L408.9,369.4M397.2,357.5L397.2,368.0L390.5,365.9L385.7,361.8M377.1,321.8L378.0,312.1L381.9,297.2L386.7,281.7L393.4,277.5L403.9,273.1L408.7,274.8L411.6,285.2L410.7,305.9L406.8,316.1M400.1,293.5L399.1,280.1L393.4,277.5M407.8,319.9L406.8,327.3L408.2,332.5L404.9,334.2L399.1,338.9M394.7,332.2L400.1,331.5L404.9,334.2M399.1,324.4L406.8,327.3M400.1,347.1L412.6,347.7L420.3,345.0L430.8,353.2L427.4,360.1M399.1,338.9L400.1,347.1M415.1,345.3L415.5,332.5L408.2,332.5" fill="none" stroke="#fff" stroke-width="0.6" stroke-linejoin="round"/>
<path d="M407.8,375.9L410.7,375.9L414.5,375.9L418.3,373.8L422.2,374.6L426.0,376.4L429.9,376.4L433.7,375.1L434.1,372.5L430.8,369.9L427.0,367.2L425.1,365.3L427.4,360.9L428.9,359.8L421.2,362.3L422.2,365.1L424.1,365.1L419.3,367.5L416.4,364.8L418.3,363.2L414.5,361.5L413.0,361.8L411.0,365.1L409.1,368.6L407.4,372.0L407.8,374.9ZM445.2,364.5L448.1,361.8L452.9,360.4L455.8,364.5L451.9,367.2L451.5,367.2L454.8,372.5L456.7,375.1L456.7,378.9L456.7,383.9L457.7,385.6L452.9,386.8L449.0,385.1L448.1,382.6L449.0,377.7L447.1,374.3L445.2,371.2L444.8,367.2Z" fill="#fff"/><defs><linearGradient id="lg" x1="0" y1="0" x2="1" y2="0"><stop offset="0" stop-color="#b9cff2"/><stop offset="0.25" stop-color="#a2bfee"/><stop offset="0.6" stop-color="#80adf1"/><stop offset="1" stop-color="#5b9cf6"/></linearGradient></defs>
<rect x="47.5" y="720.3" width="116.2" height="12.3" fill="url(#lg)"/>
<path d="M47.5,732.6 L47.5,686 L49,702 L51.5,713 L55,718 L61,720.3 L71,732.6Z" fill="#e1ebfb" stroke="#d0dae8" stroke-width="0.6"/>
<line x1="47" y1="733.5" x2="163.5" y2="733.5" stroke="#222" stroke-width="1"/>
<line x1="47.5" y1="733" x2="47.5" y2="737.5" stroke="#222" stroke-width="1"/><line x1="84.7" y1="733" x2="84.7" y2="737.5" stroke="#222" stroke-width="1"/><line x1="100.3" y1="733" x2="100.3" y2="737.5" stroke="#222" stroke-width="1"/><line x1="112.2" y1="733" x2="112.2" y2="737.5" stroke="#222" stroke-width="1"/><line x1="122.4" y1="733" x2="122.4" y2="737.5" stroke="#222" stroke-width="1"/><line x1="131.4" y1="733" x2="131.4" y2="737.5" stroke="#222" stroke-width="1"/><line x1="139.1" y1="733" x2="139.1" y2="737.5" stroke="#222" stroke-width="1"/><line x1="146.5" y1="733" x2="146.5" y2="737.5" stroke="#222" stroke-width="1"/><line x1="153.1" y1="733" x2="153.1" y2="737.5" stroke="#222" stroke-width="1"/><line x1="159.6" y1="733" x2="159.6" y2="737.5" stroke="#222" stroke-width="1"/><line x1="162.8" y1="733" x2="162.8" y2="737.5" stroke="#222" stroke-width="1"/>
<text x="50" y="730.5" font-family="Liberation Sans" font-size="9.5" fill="#a0a6b0">0</text>
<text x="161" y="730.5" font-family="Liberation Sans" font-size="9.5" fill="#b3cdf5" text-anchor="end">4.8M</text>
</svg>
</div>
<div class="zb" style="left:570px;top:133px"><div style="position:absolute;left:0;top:23px;width:24px;height:1px;background:#ddd"></div></div>
<svg class="a" style="left:0;top:0" width="1206" height="764">
<line x1="578" y1="145.5" x2="587" y2="145.5" stroke="#111" stroke-width="1.5"/>
<line x1="582.5" y1="141" x2="582.5" y2="150" stroke="#111" stroke-width="1.5"/>
<line x1="578" y1="169.5" x2="587" y2="169.5" stroke="#111" stroke-width="1.5"/>
<defs><radialGradient id="halo"><stop offset="0.7" stop-color="#fff"/><stop offset="1" stop-color="#fff" stop-opacity="0"/></radialGradient></defs><circle cx="584" cy="729" r="12.5" fill="url(#halo)"/>
<circle cx="584" cy="729" r="7" fill="#000"/>
<rect x="583" y="728" width="2.2" height="5.5" fill="#fff"/><rect x="583" y="724.6" width="2.2" height="2.2" fill="#fff"/>
</svg>

<div class="hdr"></div>
<div class="a th" style="left:817px">请求</div>
<div class="a th" style="left:1001px">带宽</div>
<div class="a td" style="left:634px;top:179.0px">United States</div><div class="a td" style="left:817px;top:179.0px">4.8M</div><div class="a td" style="left:1001px;top:179.0px">196.64 GB</div>
<div class="sep" style="top:213.7px"></div>
<div class="a td" style="left:634px;top:233.6px">Netherlands</div><div class="a td" style="left:817px;top:233.6px">38.87k</div><div class="a td" style="left:1001px;top:233.6px">1.07 GB</div>
<div class="sep" style="top:268.3px"></div>
<div class="a td" style="left:634px;top:288.2px">Singapore</div><div class="a td" style="left:817px;top:288.2px">32.7k</div><div class="a td" style="left:1001px;top:288.2px">2.8 GB</div>
<div class="sep" style="top:322.9px"></div>
<div class="a td" style="left:634px;top:342.8px">France</div><div class="a td" style="left:817px;top:342.8px">31.88k</div><div class="a td" style="left:1001px;top:342.8px">292.5 MB</div>
<div class="sep" style="top:377.5px"></div>
<div class="a td" style="left:634px;top:397.4px">Australia</div><div class="a td" style="left:817px;top:397.4px">16.2k</div><div class="a td" style="left:1001px;top:397.4px">1.38 GB</div>
<div class="sep" style="top:432.1px"></div>
<div class="a td" style="left:634px;top:452.0px">Canada</div><div class="a td" style="left:817px;top:452.0px">14.73k</div><div class="a td" style="left:1001px;top:452.0px">1.28 GB</div>
<div class="sep" style="top:486.7px"></div>
<div class="a td" style="left:634px;top:506.6px">Germany</div><div class="a td" style="left:817px;top:506.6px">4.39k</div><div class="a td" style="left:1001px;top:506.6px">27.59 MB</div>
<div class="sep" style="top:541.3px"></div>
<div class="a td" style="left:634px;top:561.2px">Ireland</div><div class="a td" style="left:817px;top:561.2px">1.21k</div><div class="a td" style="left:1001px;top:561.2px">6.95 MB</div>
<div class="sep" style="top:595.9px"></div>
<div class="a td" style="left:634px;top:615.8px">India</div><div class="a td" style="left:817px;top:615.8px">576</div><div class="a td" style="left:1001px;top:615.8px">5.31 MB</div>
<div class="sep" style="top:650.5px"></div>
<div class="a td" style="left:634px;top:670.4px">United Kingdom</div><div class="a td" style="left:817px;top:670.4px">524</div><div class="a td" style="left:1001px;top:670.4px">4 MB</div>
<div class="sep" style="top:705.1px"></div>
<div class="pg" style="left:619px"></div>
<div class="pg" style="left:657px;border-color:#c8c8c8"></div>
<svg class="a" style="left:0;top:0" width="1206" height="764">
<polyline points="637,724 632,729 637,734" fill="none" stroke="#bbb" stroke-width="1.2"/>
<polyline points="670,723 676,729 670,735" fill="none" stroke="#3a66b0" stroke-width="1.4"/>
</svg>
<div class="a" style="left:696px;top:720px;font-size:15px;color:#555"><b>1到10</b>，<b>47</b> 个 日程</div>
<svg class="a" style="left:0;top:0" width="1206" height="764"><defs><linearGradient id="gh" x1="0" y1="0" x2="0" y2="1"><stop offset="0" stop-color="#9cc0f2" stop-opacity=".35"/><stop offset="1" stop-color="#9cc0f2" stop-opacity="0"/></linearGradient><linearGradient id="gt" x1="0" y1="0" x2="0" y2="1"><stop offset="0" stop-color="#9cc0f2" stop-opacity=".35"/><stop offset="1" stop-color="#9cc0f2" stop-opacity="0"/></linearGradient></defs><polygon points="41.72,85.22 50.22,67.31 59.63,67.76 67.46,65.07 74.85,67.31 83.13,67.31 92.76,68.43 101.71,66.19 109.99,67.76 124.55,67.98 140.22,67.54 155.89,67.76 170.44,67.54 178.27,68.43 187.23,70.45 195.06,70.22 204.02,65.52 212.3,64.63 220.81,68.88 229.76,67.76 238.72,67.31 249.91,67.98 261.1,67.76 272.3,67.98 281.25,68.21 289.09,67.31 298.04,76.71 298.04,93 41.72,93" fill="url(#gh)"/><polyline points="41.72,85.22 50.22,67.31 59.63,67.76 67.46,65.07 74.85,67.31 83.13,67.31 92.76,68.43 101.71,66.19 109.99,67.76 124.55,67.98 140.22,67.54 155.89,67.76 170.44,67.54 178.27,68.43 187.23,70.45 195.06,70.22 204.02,65.52 212.3,64.63 220.81,68.88 229.76,67.76 238.72,67.31 249.91,67.98 261.1,67.76 272.3,67.98 281.25,68.21 289.09,67.31 298.04,76.71" class="ln"/>
<polygon points="330.6,87.46 339.55,73.36 347.39,73.8 356.34,69.33 364.85,73.36 373.13,73.58 380.97,74.25 389.92,73.58 398.88,73.8 407.83,73.8 416.78,73.58 425.74,73.36 434.69,73.58 441.41,73.8 450.36,73.36 459.32,73.8 468.27,74.25 476.11,75.37 484.39,78.06 492.9,71.34 501.4,64.63 510.36,74.7 517.52,73.58 526.48,73.58 535.43,73.8 543.27,74.25 551.1,73.8 560.06,73.8 569.01,74.25 577.97,73.36 586.92,80.74 586.92,93 330.6,93" fill="url(#gh)"/><polyline points="330.6,87.46 339.55,73.36 347.39,73.8 356.34,69.33 364.85,73.36 373.13,73.58 380.97,74.25 389.92,73.58 398.88,73.8 407.83,73.8 416.78,73.58 425.74,73.36 434.69,73.58 441.41,73.8 450.36,73.36 459.32,73.8 468.27,74.25 476.11,75.37 484.39,78.06 492.9,71.34 501.4,64.63 510.36,74.7 517.52,73.58 526.48,73.58 535.43,73.8 543.27,74.25 551.1,73.8 560.06,73.8 569.01,74.25 577.97,73.36 586.92,80.74" class="ln"/>
<polygon points="620.72,91.27 629.22,88.36 637.51,91.27 646.01,90.37 654.97,91.27 663.25,85.45 671.76,85.0 680.49,71.12 688.99,90.82 697.5,83.21 706.46,92.39 714.74,89.7 723.25,92.16 731.53,85.22 740.48,89.03 748.99,81.64 756.83,82.98 766.23,91.94 774.73,84.33 783.02,65.07 791.97,82.98 800.48,91.94 808.76,92.39 817.27,78.51 826.22,93.06 834.51,93.06 842.79,86.56 851.74,93.06 860.25,92.61 868.76,90.15 877.04,92.61 877.04,93 620.72,93" fill="url(#gh)"/><polyline points="620.72,91.27 629.22,88.36 637.51,91.27 646.01,90.37 654.97,91.27 663.25,85.45 671.76,85.0 680.49,71.12 688.99,90.82 697.5,83.21 706.46,92.39 714.74,89.7 723.25,92.16 731.53,85.22 740.48,89.03 748.99,81.64 756.83,82.98 766.23,91.94 774.73,84.33 783.02,65.07 791.97,82.98 800.48,91.94 808.76,92.39 817.27,78.51 826.22,93.06 834.51,93.06 842.79,86.56 851.74,93.06 860.25,92.61 868.76,90.15 877.04,92.61" class="ln"/>
<polygon points="909.6,85.22 918.55,67.31 927.51,67.76 935.34,65.07 943.85,67.31 952.13,67.54 959.97,68.43 968.92,67.09 977.88,67.98 993.55,67.98 1002.5,67.54 1011.45,67.76 1020.41,67.76 1029.36,67.54 1038.32,67.76 1047.27,68.43 1056.23,70.22 1063.39,71.57 1071.9,66.64 1080.85,64.63 1089.81,69.1 1097.64,67.76 1106.6,67.31 1115.55,67.76 1123.39,68.43 1132.34,67.76 1141.3,67.98 1149.13,68.43 1156.97,67.54 1166.37,76.71 1166.37,93 909.6,93" fill="url(#gh)"/><polyline points="909.6,85.22 918.55,67.31 927.51,67.76 935.34,65.07 943.85,67.31 952.13,67.54 959.97,68.43 968.92,67.09 977.88,67.98 993.55,67.98 1002.5,67.54 1011.45,67.76 1020.41,67.76 1029.36,67.54 1038.32,67.76 1047.27,68.43 1056.23,70.22 1063.39,71.57 1071.9,66.64 1080.85,64.63 1089.81,69.1 1097.64,67.76 1106.6,67.31 1115.55,67.76 1123.39,68.43 1132.34,67.76 1141.3,67.98 1149.13,68.43 1156.97,67.54 1166.37,76.71" class="ln"/>
<polygon points="899.36,188.08 902.67,168.64 908.72,168.35 913.04,169.5 918.8,169.22 924.56,168.93 928.88,169.22 933.2,168.93 936.8,170.08 941.41,175.12 943.28,170.08 945.44,174.11 949.04,169.5 954.8,169.22 960.56,169.5 967.04,168.93 969.21,178.43 969.21,196.08 899.36,196.08" fill="url(#gt)"/><polyline points="899.36,188.08 902.67,168.64 908.72,168.35 913.04,169.5 918.8,169.22 924.56,168.93 928.88,169.22 933.2,168.93 936.8,170.08 941.41,175.12 943.28,170.08 945.44,174.11 949.04,169.5 954.8,169.22 960.56,169.5 967.04,168.93 969.21,178.43" class="ln"/>
<polygon points="899.36,252.89 918.8,252.6 920.53,251.59 922.4,252.89 938.96,252.89 941.41,224.08 943.57,232.0 946.16,252.45 969.21,252.89 969.21,260.89 899.36,260.89" fill="url(#gt)"/><polyline points="899.36,252.89 918.8,252.6 920.53,251.59 922.4,252.89 938.96,252.89 941.41,224.08 943.57,232.0 946.16,252.45 969.21,252.89" class="ln"/>
<polygon points="899.36,308.03 943.28,308.03 945.88,278.8 948.32,308.03 969.21,308.03 969.21,316.03 899.36,316.03" fill="url(#gt)"/><polyline points="899.36,308.03 943.28,308.03 945.88,278.8 948.32,308.03 969.21,308.03" class="ln"/>
<polygon points="899.36,361.89 908.72,361.61 911.6,354.41 913.76,354.12 915.92,333.52 918.08,360.89 920.53,354.84 923.12,360.89 925.28,358.73 927.44,360.89 929.6,352.25 931.76,358.01 934.64,348.65 937.52,354.41 939.68,360.89 942.56,354.69 945.44,355.13 948.32,361.61 950.48,361.61 952.93,347.21 955.52,361.61 957.68,361.61 960.28,355.13 962.72,361.61 969.21,361.89 969.21,369.89 899.36,369.89" fill="url(#gt)"/><polyline points="899.36,361.89 908.72,361.61 911.6,354.41 913.76,354.12 915.92,333.52 918.08,360.89 920.53,354.84 923.12,360.89 925.28,358.73 927.44,360.89 929.6,352.25 931.76,358.01 934.64,348.65 937.52,354.41 939.68,360.89 942.56,354.69 945.44,355.13 948.32,361.61 950.48,361.61 952.93,347.21 955.52,361.61 957.68,361.61 960.28,355.13 962.72,361.61 969.21,361.89" class="ln"/>
<polygon points="899.36,416.88 904.11,416.88 906.56,388.08 909.15,416.88 969.21,416.88 969.21,424.88 899.36,424.88" fill="url(#gt)"/><polyline points="899.36,416.88 904.11,416.88 906.56,388.08 909.15,416.88 969.21,416.88" class="ln"/>
<polygon points="899.36,471.89 942.56,471.89 945.88,442.8 948.76,471.89 969.21,471.89 969.21,479.89 899.36,479.89" fill="url(#gt)"/><polyline points="899.36,471.89 942.56,471.89 945.88,442.8 948.76,471.89 969.21,471.89" class="ln"/>
<polygon points="899.36,525.88 900.8,525.16 904.11,517.24 908.72,524.44 911.31,506.44 913.47,525.59 918.08,497.08 920.96,523.72 923.12,523.29 928.16,525.88 931.76,519.4 933.92,522.71 936.08,522.28 939.68,525.59 943.57,521.27 947.32,525.16 954.8,525.16 957.4,506.01 959.84,525.59 964.16,525.59 967.04,524.15 969.21,525.88 969.21,533.88 899.36,533.88" fill="url(#gt)"/><polyline points="899.36,525.88 900.8,525.16 904.11,517.24 908.72,524.44 911.31,506.44 913.47,525.59 918.08,497.08 920.96,523.72 923.12,523.29 928.16,525.88 931.76,519.4 933.92,522.71 936.08,522.28 939.68,525.59 943.57,521.27 947.32,525.16 954.8,525.16 957.4,506.01 959.84,525.59 964.16,525.59 967.04,524.15 969.21,525.88" class="ln"/>
<polygon points="899.36,580.89 910.88,580.89 913.33,552.09 915.92,553.24 918.8,580.89 949.76,580.89 952.93,560.16 955.52,580.89 969.21,580.89 969.21,588.89 899.36,588.89" fill="url(#gt)"/><polyline points="899.36,580.89 910.88,580.89 913.33,552.09 915.92,553.24 918.8,580.89 949.76,580.89 952.93,560.16 955.52,580.89 969.21,580.89" class="ln"/>
<polygon points="899.36,636.03 902.24,634.59 904.4,633.44 907.28,635.6 913.04,634.88 915.63,606.8 918.51,635.17 926.0,636.03 940.4,636.03 954.8,635.17 962.0,635.6 964.88,634.88 969.21,636.03 969.21,644.03 899.36,644.03" fill="url(#gt)"/><polyline points="899.36,636.03 902.24,634.59 904.4,633.44 907.28,635.6 913.04,634.88 915.63,606.8 918.51,635.17 926.0,636.03 940.4,636.03 954.8,635.17 962.0,635.6 964.88,634.88 969.21,636.03" class="ln"/>
<polygon points="899.36,690.33 903.68,686.73 906.56,679.24 909.44,688.17 911.6,687.45 914.48,689.61 917.36,688.89 920.24,678.09 923.12,688.89 926.72,689.89 930.32,689.61 933.92,672.32 936.8,689.61 940.4,689.61 943.72,660.8 948.32,689.61 952.64,686.01 956.24,688.89 959.12,687.45 962.0,689.61 964.45,686.01 969.21,688.89 969.21,698.33 899.36,698.33" fill="url(#gt)"/><polyline points="899.36,690.33 903.68,686.73 906.56,679.24 909.44,688.17 911.6,687.45 914.48,689.61 917.36,688.89 920.24,678.09 923.12,688.89 926.72,689.89 930.32,689.61 933.92,672.32 936.8,689.61 940.4,689.61 943.72,660.8 948.32,689.61 952.64,686.01 956.24,688.89 959.12,687.45 962.0,689.61 964.45,686.01 969.21,688.89" class="ln"/>
<polygon points="1084.52,188.08 1087.4,168.35 1096.04,168.93 1101.8,169.22 1107.56,168.93 1111.88,168.93 1116.2,168.64 1120.52,169.79 1123.4,171.52 1126.57,175.12 1128.44,171.23 1130.6,173.68 1134.92,169.5 1140.68,169.22 1146.44,169.5 1151.49,168.93 1154.37,178.43 1154.37,196.08 1084.52,196.08" fill="url(#gt)"/><polyline points="1084.52,188.08 1087.4,168.35 1096.04,168.93 1101.8,169.22 1107.56,168.93 1111.88,168.93 1116.2,168.64 1120.52,169.79 1123.4,171.52 1126.57,175.12 1128.44,171.23 1130.6,173.68 1134.92,169.5 1140.68,169.22 1146.44,169.5 1151.49,168.93 1154.37,178.43" class="ln"/>
<polygon points="1082.36,252.89 1101.08,252.89 1103.24,251.01 1106.12,252.89 1123.4,252.89 1126.57,224.08 1129.16,252.17 1152.21,252.89 1152.21,260.89 1082.36,260.89" fill="url(#gt)"/><polyline points="1082.36,252.89 1101.08,252.89 1103.24,251.01 1106.12,252.89 1123.4,252.89 1126.57,224.08 1129.16,252.17 1152.21,252.89" class="ln"/>
<polygon points="1082.36,308.03 1126.28,308.03 1128.88,278.8 1131.32,308.03 1152.21,308.03 1152.21,316.03 1082.36,316.03" fill="url(#gt)"/><polyline points="1082.36,308.03 1126.28,308.03 1128.88,278.8 1131.32,308.03 1152.21,308.03" class="ln"/>
<polygon points="1082.36,362.33 1087.4,359.45 1090.28,361.32 1094.6,359.45 1096.76,360.89 1098.92,354.69 1101.51,360.89 1106.12,361.89 1110.44,361.89 1114.76,360.89 1116.92,360.17 1119.37,349.8 1121.96,361.61 1124.56,332.8 1128.88,332.8 1131.76,361.89 1135.93,357.0 1138.52,361.61 1142.84,360.17 1145.72,361.89 1152.21,361.89 1152.21,370.33 1082.36,370.33" fill="url(#gt)"/><polyline points="1082.36,362.33 1087.4,359.45 1090.28,361.32 1094.6,359.45 1096.76,360.89 1098.92,354.69 1101.51,360.89 1106.12,361.89 1110.44,361.89 1114.76,360.89 1116.92,360.17 1119.37,349.8 1121.96,361.61 1124.56,332.8 1128.88,332.8 1131.76,361.89 1135.93,357.0 1138.52,361.61 1142.84,360.17 1145.72,361.89 1152.21,361.89" class="ln"/>
<polygon points="1082.36,416.88 1087.11,416.88 1089.56,388.08 1092.15,416.88 1152.21,416.88 1152.21,424.88 1082.36,424.88" fill="url(#gt)"/><polyline points="1082.36,416.88 1087.11,416.88 1089.56,388.08 1092.15,416.88 1152.21,416.88" class="ln"/>
<polygon points="1082.36,471.89 1125.56,471.89 1128.88,442.8 1131.76,471.89 1152.21,471.89 1152.21,479.89 1082.36,479.89" fill="url(#gt)"/><polyline points="1082.36,471.89 1125.56,471.89 1128.88,442.8 1131.76,471.89 1152.21,471.89" class="ln"/>
<polygon points="1082.36,526.17 1085.24,508.6 1087.4,515.8 1089.56,506.44 1091.72,522.28 1094.31,512.92 1096.47,525.16 1098.92,512.2 1103.24,524.44 1105.83,507.16 1108.28,520.12 1111.59,526.17 1114.76,503.13 1117.35,525.16 1119.51,497.08 1122.68,520.84 1126.57,509.32 1129.45,525.16 1133.48,523.72 1137.08,523.0 1140.4,510.04 1142.84,525.59 1147.16,525.59 1150.04,504.57 1152.21,525.88 1152.21,534.17 1082.36,534.17" fill="url(#gt)"/><polyline points="1082.36,526.17 1085.24,508.6 1087.4,515.8 1089.56,506.44 1091.72,522.28 1094.31,512.92 1096.47,525.16 1098.92,512.2 1103.24,524.44 1105.83,507.16 1108.28,520.12 1111.59,526.17 1114.76,503.13 1117.35,525.16 1119.51,497.08 1122.68,520.84 1126.57,509.32 1129.45,525.16 1133.48,523.72 1137.08,523.0 1140.4,510.04 1142.84,525.59 1147.16,525.59 1150.04,504.57 1152.21,525.88" class="ln"/>
<polygon points="1082.36,580.89 1093.88,580.89 1096.76,552.09 1101.8,580.89 1132.76,580.89 1135.93,558.28 1138.52,580.89 1152.21,580.89 1152.21,588.89 1082.36,588.89" fill="url(#gt)"/><polyline points="1082.36,580.89 1093.88,580.89 1096.76,552.09 1101.8,580.89 1132.76,580.89 1135.93,558.28 1138.52,580.89 1152.21,580.89" class="ln"/>
<polygon points="1082.36,636.03 1084.52,635.17 1087.11,630.56 1091.72,635.17 1096.04,635.17 1098.63,606.8 1101.51,635.17 1109.0,636.03 1126.28,636.03 1132.04,634.88 1134.92,636.32 1138.52,634.16 1141.4,635.6 1143.56,634.59 1147.88,635.6 1152.21,636.03 1152.21,644.32 1082.36,644.32" fill="url(#gt)"/><polyline points="1082.36,636.03 1084.52,635.17 1087.11,630.56 1091.72,635.17 1096.04,635.17 1098.63,606.8 1101.51,635.17 1109.0,636.03 1126.28,636.03 1132.04,634.88 1134.92,636.32 1138.52,634.16 1141.4,635.6 1143.56,634.59 1147.88,635.6 1152.21,636.03" class="ln"/>
<polygon points="1082.36,689.89 1089.56,688.89 1094.6,689.89 1100.36,689.61 1103.24,683.13 1106.84,689.89 1113.32,689.89 1117.64,688.17 1121.24,690.33 1124.12,689.61 1126.72,661.09 1129.88,689.61 1132.04,689.89 1134.92,688.17 1139.24,688.89 1142.84,678.09 1145.0,689.61 1152.21,689.61 1152.21,698.33 1082.36,698.33" fill="url(#gt)"/><polyline points="1082.36,689.89 1089.56,688.89 1094.6,689.89 1100.36,689.61 1103.24,683.13 1106.84,689.89 1113.32,689.89 1117.64,688.17 1121.24,690.33 1124.12,689.61 1126.72,661.09 1129.88,689.61 1132.04,689.89 1134.92,688.17 1139.24,688.89 1142.84,678.09 1145.0,689.61 1152.21,689.61" class="ln"/></svg>
</body></html>
